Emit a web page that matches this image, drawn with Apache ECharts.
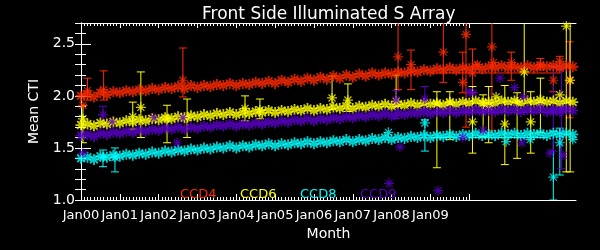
<!DOCTYPE html>
<html>
<head>
<meta charset="utf-8">
<script src="https://cdn.jsdelivr.net/npm/echarts@6/dist/echarts.min.js"></script>
<style>
html,body{margin:0;padding:0;background:#000;}
#chart{width:600px;height:250px;}
</style>
</head>
<body>
<div id="chart"></div>
<script>
// ---- data (x = months since Jan 2000) ----
const tickLabels = ['Jan00','Jan01','Jan02','Jan03','Jan04','Jan05','Jan06','Jan07','Jan08','Jan09'];
const seriesNames = ['CCD4','CCD6','CCD8','CCD9'];
const months = [0,2,4,6,8,10,12,14,16,18,20,22,24,26,28,30,32,34,36,38,40,42,44,46,48,50,52,54,56,58,60,62,64,66,68,70,72,74,76,78,80,82,84,86,88,90,92,94,96,98,100,102,104,106,108,110,112,114,116,118,120,122,124,126,128,130,132,134,136,138,140,142,144,146,148,150,152];
const ccd4 = [2.00,2.01,1.99,2.03,2.01,2.04,2.03,2.05,2.04,2.06,2.05,2.07,2.06,2.08,2.07,2.09,2.07,2.10,2.08,2.10,2.09,2.11,2.10,2.12,2.10,2.12,2.11,2.13,2.12,2.14,2.12,2.15,2.13,2.16,2.14,2.17,2.15,2.18,2.16,2.19,2.17,2.20,2.18,2.21,2.19,2.22,2.20,2.22,2.21,2.23,2.22,2.24,2.23,2.25,2.24,2.26,2.25,2.27,2.25,2.27,2.26,2.28,2.26,2.28,2.27,2.29,2.27,2.28,2.27,2.29,2.27,2.29,2.28,2.29,2.27,2.29,2.28];
const ccd6 = [1.72,1.73,1.71,1.74,1.73,1.75,1.74,1.76,1.75,1.77,1.76,1.78,1.77,1.79,1.78,1.80,1.79,1.81,1.80,1.82,1.81,1.83,1.82,1.84,1.82,1.84,1.83,1.85,1.84,1.86,1.84,1.86,1.85,1.87,1.86,1.88,1.86,1.88,1.87,1.89,1.88,1.90,1.88,1.90,1.89,1.91,1.90,1.92,1.90,1.92,1.91,1.93,1.91,1.93,1.92,1.93,1.91,1.94,1.92,1.94,1.93,1.95,1.93,1.94,1.93,1.95,1.94,1.95,1.93,1.95,1.94,1.96,1.94,1.95,1.93,1.95,1.94];
const ccd8 = [1.40,1.41,1.39,1.42,1.41,1.43,1.42,1.44,1.43,1.45,1.44,1.46,1.45,1.47,1.46,1.48,1.47,1.49,1.48,1.50,1.49,1.51,1.50,1.52,1.50,1.52,1.51,1.53,1.52,1.54,1.52,1.54,1.53,1.55,1.54,1.56,1.54,1.56,1.55,1.57,1.56,1.58,1.56,1.58,1.57,1.59,1.58,1.60,1.58,1.60,1.59,1.61,1.60,1.62,1.60,1.62,1.61,1.63,1.61,1.63,1.62,1.64,1.62,1.63,1.62,1.64,1.63,1.64,1.62,1.64,1.63,1.64,1.62,1.64,1.63,1.64,1.63];
const ccd9 = [1.62,1.63,1.61,1.64,1.63,1.65,1.64,1.66,1.65,1.67,1.66,1.68,1.67,1.69,1.68,1.70,1.68,1.70,1.69,1.71,1.70,1.72,1.71,1.73,1.71,1.73,1.72,1.74,1.73,1.75,1.74,1.76,1.75,1.77,1.76,1.78,1.76,1.78,1.77,1.79,1.78,1.80,1.79,1.81,1.80,1.82,1.81,1.83,1.81,1.83,1.82,1.84,1.83,1.85,1.83,1.85,1.84,1.86,1.84,1.86,1.85,1.87,1.85,1.86,1.85,1.87,1.86,1.87,1.85,1.87,1.86,1.88,1.85,1.87,1.85,1.87,1.86];
// outliers: [month, value, low, high] (low/high optional = error bar)
const ccd4Out = [[0.6,1.91],[2,2.05,1.96,2.17],[7,2.06,1.96,2.24],[31.5,2.15,1.99,2.46],[98,2.375,2.06,2.8],[102,2.30,2.06,2.44],[112,2.42,2.13,2.8],[118,2.13,2.03,2.42],[119,2.59,1.70,2.8],[121,2.22,2.03,2.45],[122.5,2.30],[127,2.47,1.67,2.8],[127.5,2.32],[133,2.32,2.15,2.42],[142,2.30,2.25,2.36],[146,2.15,2.04,2.28],[148,2.33,2.25,2.38],[151,2.15,1.79,2.52]];
const ccd6Out = [[0.6,1.78,1.55,1.91],[16,1.80,1.68,1.94],[18.5,1.89,1.60,2.23],[26.6,1.78,1.55,1.91],[32.8,1.79,1.60,1.97],[50.7,1.88,1.76,2.00],[55.3,1.865,1.78,1.97],[77.6,1.98,1.87,2.19],[82.5,1.96,1.85,2.115],[97.4,1.95,1.90,2.20],[110,1.92,1.31,2.04],[114,1.93,1.58,2.04],[121,1.75,1.45,2.09],[124.3,1.93,1.61,2.01],[126,1.90,1.55,2.09],[128.3,1.99],[131,1.73,1.34,2.10],[134.8,1.94,1.40,2.03],[137,2.23,1.96,2.8],[139,1.75,1.45,2.04],[142,1.93,1.65,2.17],[148,2.01],[150,2.67,1.27,2.8],[151.2,2.15,1.27,2.8]];
const ccd8Out = [[6.8,1.41,1.32,1.48],[10.5,1.41,1.27,1.50],[95,1.65],[106.3,1.74,1.47,1.77],[131.4,1.56],[138.8,1.58],[146,1.22,1.0,1.66],[148,1.55,1.24,1.69],[152,1.58]];
const ccd9Out = [[0.6,1.45],[6.8,1.82,1.70,1.90],[9.6,1.75],[22.6,1.79],[29.7,1.55],[31.5,1.79],[95.2,1.16],[97.4,1.96,1.78,2.05],[98.6,1.51],[106.3,1.97,1.865,2.09],[110.4,1.09],[118,1.60],[120,2.04],[121.3,2.03],[124.3,1.67],[129.5,2.17],[134,2.08],[136.3,1.55],[136.8,1.99],[145,1.45],[146,1.85,1.47,2.27],[148.5,1.87,1.30,2.28],[149,1.43]];
// horizontal segments: [monthStart, monthEnd, value]
const ccd4Seg = [[108,148,2.22]];
const ccd6Seg = [];
const ccd8Seg = [[108,144,1.60]];
const ccd9Seg = [[108,146,1.84]];

const colors = ['#ff2a00','#ffff00','#00ffff','#5a00c8'];
const bands = [ccd4, ccd6, ccd8, ccd9];
const outs = [ccd4Out, ccd6Out, ccd8Out, ccd9Out];
const segs = [ccd4Seg, ccd6Seg, ccd8Seg, ccd9Seg];
const monthCats = [];
for (let i = 0; i <= 153; i++) monthCats.push(String(i));

const STAR = 'path://M0,5L10,5M5,0L5,10M1.5,1.5L8.5,8.5M8.5,1.5L1.5,8.5';
const FONT = 'DejaVu Sans';

function errRender(color) {
  return function (params, api) {
    const x = api.value(0), lo = api.value(1), hi = api.value(2);
    const p1 = api.coord([x, hi]), p2 = api.coord([x, lo]);
    const w = 4;
    const st = {stroke: color, lineWidth: 1};
    return {type: 'group', children: [
      {type: 'line', shape: {x1: p1[0], y1: p1[1], x2: p2[0], y2: p2[1]}, style: st},
      {type: 'line', shape: {x1: p1[0] - w, y1: p1[1], x2: p1[0] + w, y2: p1[1]}, style: st},
      {type: 'line', shape: {x1: p2[0] - w, y1: p2[1], x2: p2[0] + w, y2: p2[1]}, style: st}
    ]};
  };
}
function segRender(color) {
  return function (params, api) {
    const p1 = api.coord([api.value(0), api.value(2)]), p2 = api.coord([api.value(1), api.value(2)]);
    return {type: 'line', shape: {x1: p1[0], y1: p1[1], x2: p2[0], y2: p2[1]}, style: {stroke: color, lineWidth: 1}};
  };
}

const series = [];
seriesNames.forEach(function (name, k) {
  const c = colors[k];
  series.push({
    name: name, type: 'scatter', xAxisIndex: 0, yAxisIndex: 0,
    data: months.map(function (m, i) { return [m, bands[k][i]]; }),
    symbol: STAR, symbolSize: 11, silent: true, animation: false,
    itemStyle: {color: c, borderColor: c, borderWidth: 1.8}
  });
  series.push({
    name: name, type: 'custom', xAxisIndex: 0, yAxisIndex: 0, clip: true,
    data: segs[k], renderItem: segRender(c), silent: true, animation: false
  });
  series.push({
    name: name, type: 'custom', xAxisIndex: 0, yAxisIndex: 0, clip: true,
    data: outs[k].filter(function (d) { return d.length === 4; }).map(function (d) { return [d[0], d[2], d[3]]; }),
    renderItem: errRender(c), silent: true, animation: false
  });
  series.push({
    name: name, type: 'scatter', xAxisIndex: 0, yAxisIndex: 0,
    data: outs[k].map(function (d) { return [d[0], d[1]]; }),
    symbol: STAR, symbolSize: 10, silent: true, animation: false,
    itemStyle: {color: c, borderColor: c, borderWidth: 1.2}
  });
});

const white = '#ffffff';
const rect = {left: 81, top: 23, width: 495, height: 177};
const legendPos = [180, 240, 300, 360];

const option = {
  backgroundColor: '#000000',
  animation: false,
  title: {
    text: 'Front Side Illuminated S Array',
    left: 197, top: 1,
    textStyle: {color: white, fontSize: 17, fontWeight: 'normal', fontFamily: FONT}
  },
  legend: seriesNames.map(function (n, k) {
    return {
      data: [{name: n, textStyle: {color: colors[k]}}],
      left: legendPos[k] - 5, top: 188, padding: 0,
      icon: 'none', itemWidth: 0, itemHeight: 14, selectedMode: false,
      textStyle: {fontSize: 13, fontFamily: FONT, color: colors[k]}
    };
  }),
  grid: [
    Object.assign({}, rect),
    Object.assign({}, rect),
    Object.assign({}, rect)
  ],
  xAxis: [
    {gridIndex: 0, type: 'value', position: 'bottom', min: 0, max: 153, interval: 12,
     axisLine: {show: true, lineStyle: {color: white, width: 1}},
     axisTick: {show: false}, splitLine: {show: false},
     axisLabel: {color: white, fontSize: 13, fontFamily: FONT, margin: 9, hideOverlap: false,
       formatter: function (v) { const i = Math.round(v / 12); return (v % 12 === 0 && i < tickLabels.length) ? tickLabels[i] : ''; }},
     name: 'Month', nameLocation: 'middle', nameGap: 24,
     nameTextStyle: {color: white, fontSize: 14, fontFamily: FONT}},
    {gridIndex: 0, type: 'value', position: 'top', min: 0, max: 153,
     axisLine: {show: true, lineStyle: {color: white, width: 1}},
     axisTick: {show: false}, axisLabel: {show: false}, splitLine: {show: false}},
    {gridIndex: 1, type: 'category', data: monthCats, boundaryGap: false, position: 'bottom',
     axisLine: {show: false}, axisLabel: {show: false},
     axisTick: {show: true, inside: true, length: 3, lineStyle: {color: white},
       interval: function (i) { return i <= 120; }}},
    {gridIndex: 1, type: 'category', data: monthCats, boundaryGap: false, position: 'top',
     axisLine: {show: false}, axisLabel: {show: false},
     axisTick: {show: true, inside: true, length: 3, lineStyle: {color: white},
       interval: function (i) { return i <= 120; }}},
    {gridIndex: 2, type: 'category', data: monthCats, boundaryGap: false, position: 'bottom',
     axisLine: {show: false}, axisLabel: {show: false},
     axisTick: {show: true, inside: true, length: 6, lineStyle: {color: white},
       interval: function (i) { return i <= 120 && i % 12 === 0; }}},
    {gridIndex: 2, type: 'category', data: monthCats, boundaryGap: false, position: 'top',
     axisLine: {show: false}, axisLabel: {show: false},
     axisTick: {show: true, inside: true, length: 5, lineStyle: {color: white},
       interval: function (i) { return i <= 120 && i % 12 === 0; }}}
  ],
  yAxis: [
    {gridIndex: 0, type: 'value', position: 'left', min: 1.0, max: 2.7, interval: 0.5,
     axisLine: {show: true, lineStyle: {color: white, width: 1}},
     axisTick: {show: true, inside: true, length: 10, lineStyle: {color: white}},
     splitLine: {show: false},
     axisLabel: {color: white, fontSize: 14, fontFamily: FONT, margin: 6, showMinLabel: true,
       formatter: function (v) { return (Math.abs(v * 2 - Math.round(v * 2)) < 1e-6) ? v.toFixed(1) : ''; }},
     name: 'Mean CTI', nameLocation: 'middle', nameGap: 35, nameRotate: 90,
     nameTextStyle: {color: white, fontSize: 14, fontFamily: FONT}},
    {gridIndex: 0, type: 'value', position: 'right', min: 1.0, max: 2.7, interval: 0.1,
     axisLine: {show: true, lineStyle: {color: white, width: 1}},
     axisTick: {show: true, inside: true, length: 6, lineStyle: {color: white}},
     axisLabel: {show: false}, splitLine: {show: false}},
    {gridIndex: 1, type: 'value', position: 'left', min: 1.0, max: 2.7, interval: 0.1,
     axisLine: {show: false},
     axisTick: {show: true, inside: true, length: 5, lineStyle: {color: white}},
     axisLabel: {show: false}, splitLine: {show: false}},
    {gridIndex: 2, type: 'value', show: false, min: 1.0, max: 2.7}
  ],
  series: series
};

const chart = echarts.init(document.getElementById('chart'), null, {renderer: 'canvas'});
chart.setOption(option);
</script>
</body>
</html>
